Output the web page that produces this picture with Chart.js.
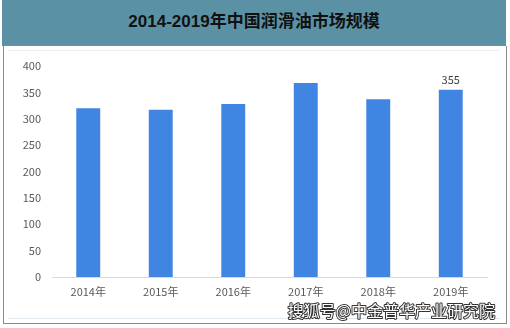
<!DOCTYPE html>
<html>
<head>
<meta charset="utf-8">
<script src="https://cdn.jsdelivr.net/npm/chart.js@4"></script>
<style>
  body { margin: 0; width: 510px; height: 328px; position: relative; background: #fff; overflow: hidden; }
  #title {
    position: absolute; left: 2px; top: 0; width: 504px; height: 45px;
    background: #5B91A5; border-bottom: 1px solid #7b8a90;
    font: bold 17px "Liberation Sans", "Noto Sans CJK SC", sans-serif; color: #111;
    text-align: center; line-height: 44px;
  }
  #panel {
    position: absolute; left: 3px; top: 46px; width: 502px; height: 277px;
    border-left: 1px solid #8a8a8a; border-right: 1px solid #8a8a8a; border-bottom: 1px solid #8a8a8a;
  }
  #inner {
    position: absolute; left: 8px; top: 50px; width: 492px; height: 267px;
    border-top: 1px solid #e6edf3; border-bottom: 1px solid #e0e8f0;
  }
  #wrap { position: absolute; left: 0; top: 0; width: 510px; height: 328px; }
</style>
</head>
<body>
<div id="title">2014-2019年中国润滑油市场规模</div>
<div id="panel"></div>
<div id="inner"></div>
<div id="wrap"><canvas id="myChart" width="510" height="328"></canvas></div>
<script>
let years = ['2014年', '2015年', '2016年', '2017年', '2018年', '2019年'];
let marketSize = [320, 317, 328, 368, 337, 355];
let labeledYear = '2019年';
let watermark = '搜狐号@中金普华产业研究院';

let labelPlugin = {
    id: 'labels',
    afterDatasetsDraw(chart) {
        let ctx = chart.ctx;
        let meta = chart.getDatasetMeta(0);
        let i = years.indexOf(labeledYear);
        let bar = meta.data[i];
        ctx.save();
        ctx.font = '11px "Noto Sans CJK SC", sans-serif';
        ctx.fillStyle = '#404040';
        ctx.textAlign = 'center';
        ctx.textBaseline = 'bottom';
        ctx.fillText(String(marketSize[i]), bar.x, bar.y - 4);
        ctx.restore();
    },
    afterDraw(chart) {
        // sohu watermark, white letters with dark outline
        let ctx = chart.ctx;
        ctx.save();
        ctx.font = '16px "Noto Sans CJK SC", sans-serif';
        ctx.textAlign = 'right';
        ctx.textBaseline = 'alphabetic';
        ctx.lineWidth = 2;
        ctx.strokeStyle = '#333333';
        ctx.lineJoin = 'round';
        ctx.strokeText(watermark, 495, 317);
        ctx.fillStyle = '#ffffff';
        ctx.fillText(watermark, 495, 317);
        ctx.restore();
    }
};

let myChart = new Chart(document.getElementById('myChart').getContext('2d'), {
    type: 'bar',
    data: {
        labels: years,
        datasets: [{
            label: '市场规模',
            data: marketSize,
            backgroundColor: '#4085E2',
            categoryPercentage: 1,
            barPercentage: 0.33
        }]
    },
    options: {
        responsive: false,
        animation: false,
        devicePixelRatio: 1,
        layout: { padding: { top: 66, right: 23, left: 0, bottom: 0 } },
        plugins: { legend: { display: false }, tooltip: { enabled: false } },
        scales: {
            x: {
                grid: { display: false, drawTicks: false },
                border: { color: '#d9d9d9' },
                ticks: { color: '#595959', maxRotation: 0, font: { size: 11, family: '"Noto Sans CJK SC", sans-serif' }, padding: 8 },
                afterFit(scale) { scale.height = 51; }
            },
            y: {
                min: 0, max: 400,
                grid: { display: false, drawTicks: false },
                border: { display: false },
                ticks: { stepSize: 50, color: '#595959', font: { size: 11, family: '"Noto Sans CJK SC", sans-serif' }, padding: 11 },
                afterFit(scale) { scale.width = 52; }
            }
        }
    },
    plugins: [labelPlugin]
});
</script>
</body>
</html>
